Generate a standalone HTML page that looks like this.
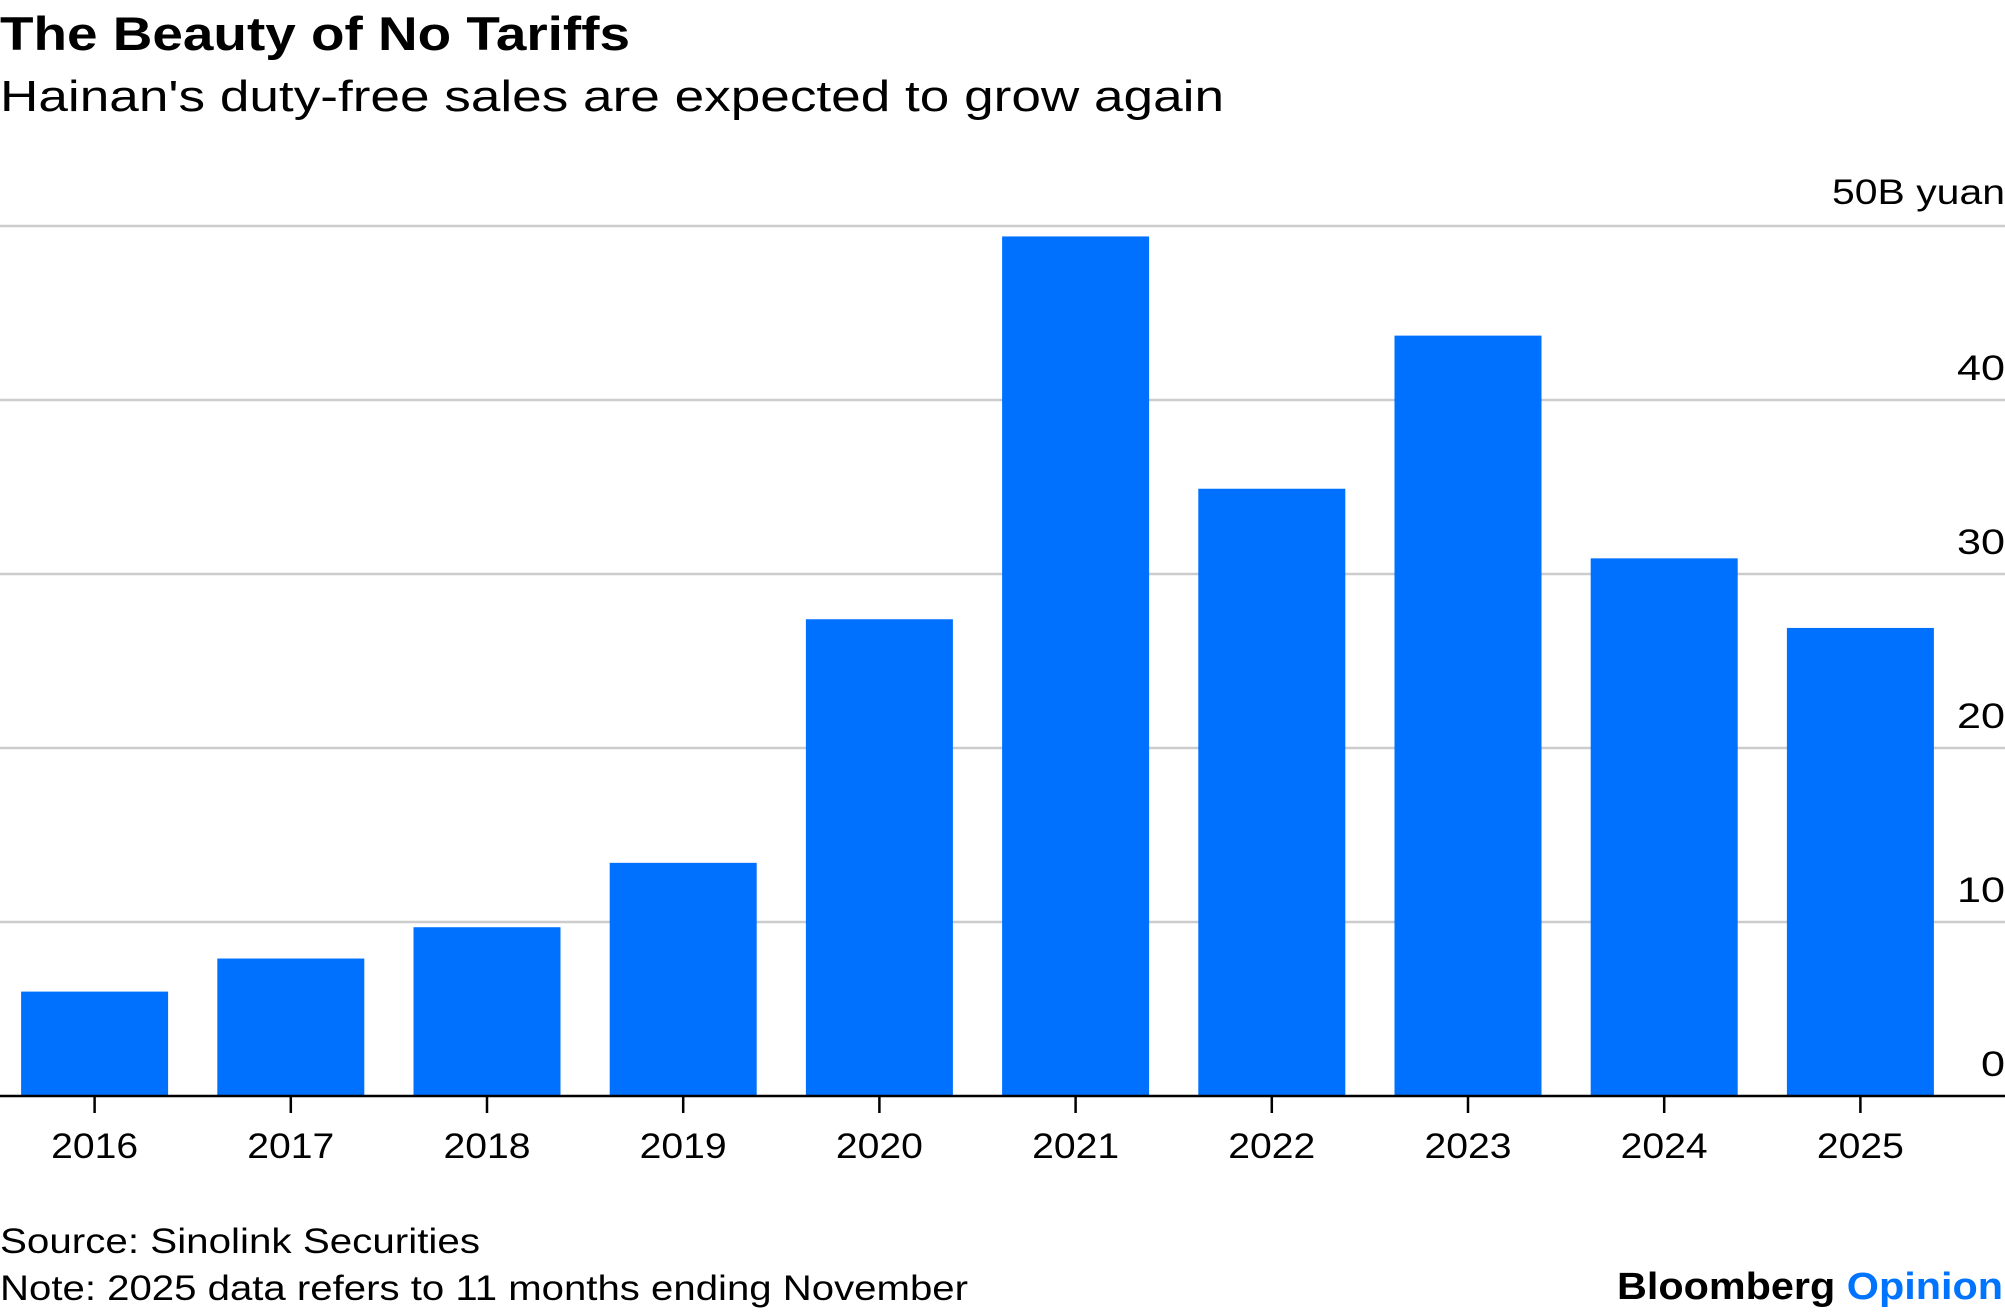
<!DOCTYPE html>
<html><head><meta charset="utf-8"><style>
body{margin:0;background:#fff;width:2005px;height:1314px;overflow:hidden;font-family:"Liberation Sans",sans-serif;}
svg{display:block}
</style></head><body>
<svg id="chart" width="2005" height="1314">
<text x="0" y="50" font-size="47" font-weight="bold" fill="#000" textLength="630" lengthAdjust="spacingAndGlyphs">The Beauty of No Tariffs</text>
<text x="0" y="111" font-size="44" fill="#000" textLength="1224" lengthAdjust="spacingAndGlyphs">Hainan's duty-free sales are expected to grow again</text>
<g id="grid"></g>
<g id="bars"></g>
<g id="xaxis"></g>
<text x="0" y="1253" font-size="35" fill="#000" textLength="480" lengthAdjust="spacingAndGlyphs">Source: Sinolink Securities</text>
<text x="0" y="1300" font-size="35" fill="#000" textLength="968" lengthAdjust="spacingAndGlyphs">Note: 2025 data refers to 11 months ending November</text>
<text x="1617" y="1299" font-size="38" font-weight="bold" textLength="386" lengthAdjust="spacingAndGlyphs"><tspan fill="#000">Bloomberg </tspan><tspan fill="#0073ff">Opinion</tspan></text>
</svg>
<script>
const categories=["2016","2017","2018","2019","2020","2021","2022","2023","2024","2025"];
const values=[6.0,7.9,9.7,13.4,27.4,49.4,34.9,43.7,30.9,26.9];
const yTicks=[0,10,20,30,40,50];
const yTickLabels=["0","10","20","30","40","50B yuan"];
const NS="http://www.w3.org/2000/svg";
const y0=1096,yPerUnit=17.4,step=196.2,first=94.6,bw=147;
function y(v){return y0-v*yPerUnit;}
function x(i){return first+i*step;}
const grid=document.getElementById('grid'),bars=document.getElementById('bars'),xa=document.getElementById('xaxis');
yTicks.forEach((t,i)=>{
 if(t!==0){const l=document.createElementNS(NS,'line');
 l.setAttribute('x1',0);l.setAttribute('x2',2005);l.setAttribute('y1',y(t));l.setAttribute('y2',y(t));
 l.setAttribute('stroke','#cccccc');l.setAttribute('stroke-width',2.5);
 
 
 grid.appendChild(l);}
 const tx=document.createElementNS(NS,'text');
 const lbl=yTickLabels[i];
 const w=lbl.length===1?24:(lbl.length===2?48:173);
 tx.setAttribute('x',2005-w);tx.setAttribute('y',y(t)-(t===50?22:20));
 tx.setAttribute('font-size',35);tx.setAttribute('textLength',w);tx.setAttribute('lengthAdjust','spacingAndGlyphs');
 tx.textContent=lbl;
 
 
 grid.appendChild(tx);
});
categories.forEach((c,i)=>{
 const r=document.createElementNS(NS,'rect');
 r.setAttribute('x',x(i)-bw/2);r.setAttribute('width',bw);r.setAttribute('y',y(values[i]));r.setAttribute('height',y0-y(values[i]));
 r.setAttribute('fill','#0070ff');
 
 
 bars.appendChild(r);
 const tk=document.createElementNS(NS,'line');
 tk.setAttribute('x1',x(i));tk.setAttribute('x2',x(i));tk.setAttribute('y1',y0);tk.setAttribute('y2',y0+17);
 tk.setAttribute('stroke','#000');tk.setAttribute('stroke-width',2.5);
 
 
 xa.appendChild(tk);
 const t=document.createElementNS(NS,'text');
 t.setAttribute('x',x(i)-43.5);t.setAttribute('y',1158);t.setAttribute('font-size',35);
 t.setAttribute('textLength',87);t.setAttribute('lengthAdjust','spacingAndGlyphs');
 t.textContent=c;
 
 
 xa.appendChild(t);
});
const ax=document.createElementNS(NS,'line');
ax.setAttribute('x1',0);ax.setAttribute('x2',2005);ax.setAttribute('y1',y0);ax.setAttribute('y2',y0);
ax.setAttribute('stroke','#000');ax.setAttribute('stroke-width',2.5);


xa.appendChild(ax);
</script>
</body></html>
